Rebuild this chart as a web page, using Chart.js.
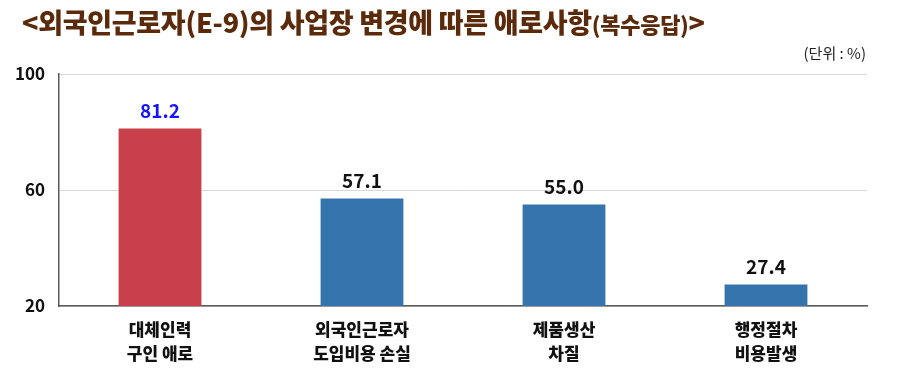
<!DOCTYPE html>
<html><head><meta charset="utf-8">
<script src="https://cdn.jsdelivr.net/npm/chart.js@4/dist/chart.umd.min.js"></script>
<style>
html,body{margin:0;padding:0;background:#fff;}
#wrap{position:relative;width:904px;height:375px;}
#title{position:absolute;left:22px;top:2px;font-family:'Noto Sans CJK KR',sans-serif;font-weight:900;font-size:27px;color:#5B2A0B;white-space:nowrap;letter-spacing:-0.3px;}
#title small{font-size:22px;}
#unit{position:absolute;right:38px;top:42px;font-family:'Noto Sans CJK KR',sans-serif;font-size:15px;color:#222;}
canvas{position:absolute;left:0;top:0;}
</style></head>
<body><div id="wrap">
<canvas id="c" width="904" height="375"></canvas>
<div id="title">&lt;외국인근로자(E-9)의 사업장 변경에 따른 애로사항<small>(복수응답)</small>&gt;</div>
<div id="unit">(단위 : %)</div>
</div>
<script>
const categories = [["대체인력","구인 애로"],["외국인근로자","도입비용 손실"],["제품생산","차질"],["행정절차","비용발생"]];
const values = [81.2, 57.1, 55.0, 27.4];
const barColors = ["#C8414A","#3574AD","#3574AD","#3574AD"];
const labelColors = ["#1414FF","#111111","#111111","#111111"];
const yTicks = [20, 60, 100];
const FONT = "'Noto Sans CJK KR',sans-serif";

const valueLabels = {
  id:'valueLabels',
  afterDatasetsDraw(chart){
    const ctx = chart.ctx;
    const meta = chart.getDatasetMeta(0);
    ctx.save();
    ctx.font = "bold 19px " + FONT;
    ctx.textAlign = 'center';
    ctx.textBaseline = 'bottom';
    meta.data.forEach((bar,i)=>{
      ctx.fillStyle = labelColors[i];
      ctx.fillText(values[i].toFixed(1), bar.x, bar.y - 8);
    });
    ctx.restore();
  }
};

new Chart(document.getElementById('c'), {
  type:'bar',
  data:{labels:categories, datasets:[{data:values, backgroundColor:barColors, categoryPercentage:1, barPercentage:0.41}]},
  options:{
    responsive:false, animation:false,
    layout:{padding:{top:74,right:37,bottom:0,left:0}},
    plugins:{legend:{display:false},tooltip:{enabled:false},title:{display:false}},
    scales:{
      x:{
        grid:{display:false, drawTicks:false},
        border:{color:'#595959', width:1.5},
        ticks:{color:'#111', font:{family:FONT, size:17, weight:'900', lineHeight:1.45}, padding:11, maxRotation:0},
        afterFit(s){ s.height = 69; }
      },
      y:{
        min:20, max:100,
        afterBuildTicks(s){ s.ticks = yTicks.map(v=>({value:v})); },
        grid:{color:'#D9D9D9', drawTicks:false},
        border:{color:'#595959', width:1.5},
        ticks:{color:'#111', font:{family:FONT, size:17, weight:'bold'}, padding:14},
        afterFit(s){ s.width = 59; }
      }
    }
  },
  plugins:[valueLabels]
});
</script>
</body></html>
